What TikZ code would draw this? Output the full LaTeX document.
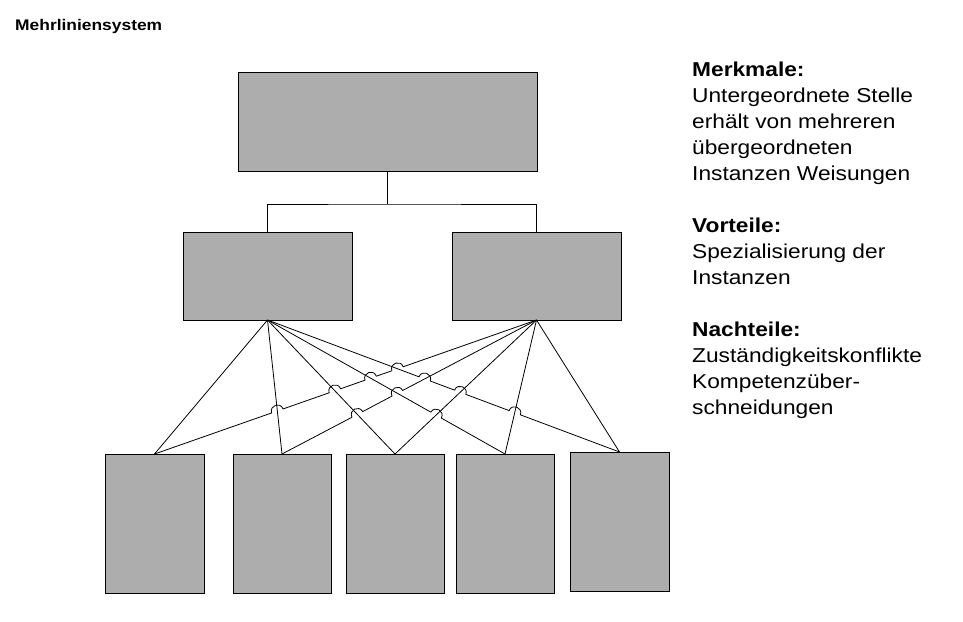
\documentclass[tikz,border=0pt]{standalone}
\usepackage{fontspec}
\setmainfont{Liberation Sans}[FakeStretch=1.13]
\usetikzlibrary{calc}
\definecolor{boxgray}{RGB}{173,173,173}
\tikzset{
  box/.style={draw=black, line width=1pt, fill=boxgray, inner sep=0pt, outer sep=0pt, anchor=north west},
  conn/.style={line width=0.8pt, line join=round},
  jump/.style={bend left=90, looseness=1.7},
  txt/.style={inner sep=0pt, anchor=base west, align=left}
}
\def\jr{6pt}
\begin{document}
\begin{tikzpicture}[x=1pt,y=-1pt]
\useasboundingbox (0,0) rectangle (963,621);
% title
\node[txt, font=\fontsize{15.4}{18}\selectfont\bfseries] (title) at (15,30) {Mehrliniensystem};
% boxes
\node[box, minimum width=299pt, minimum height=99pt] (top) at (238,72) {};
\node[box, minimum width=169pt, minimum height=88pt] (ml) at (183,232) {};
\node[box, minimum width=169pt, minimum height=88pt] (mr) at (452,232) {};
\node[box, minimum width=99pt, minimum height=139pt] (b1) at (105,454) {};
\node[box, minimum width=98pt, minimum height=139pt] (b2) at (233,454) {};
\node[box, minimum width=98pt, minimum height=139pt] (b3) at (346,454) {};
\node[box, minimum width=98pt, minimum height=139pt] (b4) at (456,454) {};
\node[box, minimum width=99pt, minimum height=139pt] (b5) at (570,452) {};
% tree
\coordinate (jn) at ($(top.south)+(0,33)$);
\draw[conn] (top.south) -- (jn);
\draw[conn] (ml.north) |- (jn) -| (mr.north);
% apex and targets
\coordinate (L) at (ml.south);
\coordinate (R) at (mr.south);
\coordinate (T1) at (b1.north);
\coordinate (T2) at (b2.north);
\coordinate (T3) at (b3.north);
\coordinate (T4) at (b4.north);
\coordinate (T5) at (b5.north);
% crossings cIJ = (L->bI) x (R->bJ)
\coordinate (c21) at (intersection of L--T2 and R--T1);
\coordinate (c31) at (intersection of L--T3 and R--T1);
\coordinate (c41) at (intersection of L--T4 and R--T1);
\coordinate (c51) at (intersection of L--T5 and R--T1);
\coordinate (c32) at (intersection of L--T3 and R--T2);
\coordinate (c42) at (intersection of L--T4 and R--T2);
\coordinate (c52) at (intersection of L--T5 and R--T2);
\coordinate (c43) at (intersection of L--T4 and R--T3);
\coordinate (c53) at (intersection of L--T5 and R--T3);
\coordinate (c54) at (intersection of L--T5 and R--T4);
% straight lines
\draw[conn] (L) -- (T1);
\draw[conn] (L) -- (T2);
\draw[conn] (L) -- (T3);
\draw[conn] (R) -- (T3);
\draw[conn] (R) -- (T4);
\draw[conn] (R) -- (T5);
% lines with jumps (drawn left to right)
\draw[conn] (L) -- ($(c43)!\jr!(L)$) to[jump] ($(c43)!\jr!(T4)$) -- (T4);
\draw[conn] (L) -- ($(c52)!\jr!(L)$) to[jump] ($(c52)!\jr!(T5)$)
  -- ($(c53)!\jr!(L)$) to[jump] ($(c53)!\jr!(T5)$)
  -- ($(c54)!\jr!(L)$) to[jump] ($(c54)!\jr!(T5)$) -- (T5);
\draw[conn] (T1) -- ($(c21)!\jr!(T1)$) to[jump] ($(c21)!\jr!(R)$)
  -- ($(c31)!\jr!(T1)$) to[jump] ($(c31)!\jr!(R)$)
  -- ($(c41)!\jr!(T1)$) to[jump] ($(c41)!\jr!(R)$)
  -- ($(c51)!\jr!(T1)$) to[jump] ($(c51)!\jr!(R)$) -- (R);
\draw[conn] (T2) -- ($(c32)!\jr!(T2)$) to[jump] ($(c32)!\jr!(R)$)
  -- ($(c42)!\jr!(T2)$) to[jump] ($(c42)!\jr!(R)$) -- (R);
% right text (base anchor = last line)
\node[txt, font=\fontsize{20.1}{26}\selectfont] (info) at (692,414) {%
\textbf{Merkmale:}\\
Untergeordnete Stelle\\
erhält von mehreren\\
übergeordneten\\
Instanzen Weisungen\\[26pt]
\textbf{Vorteile:}\\
Spezialisierung der\\
Instanzen\\[26pt]
\textbf{Nachteile:}\\
Zuständigkeitskonflikte\\
Kompetenzüber-\\
schneidungen};
\end{tikzpicture}
\end{document}
